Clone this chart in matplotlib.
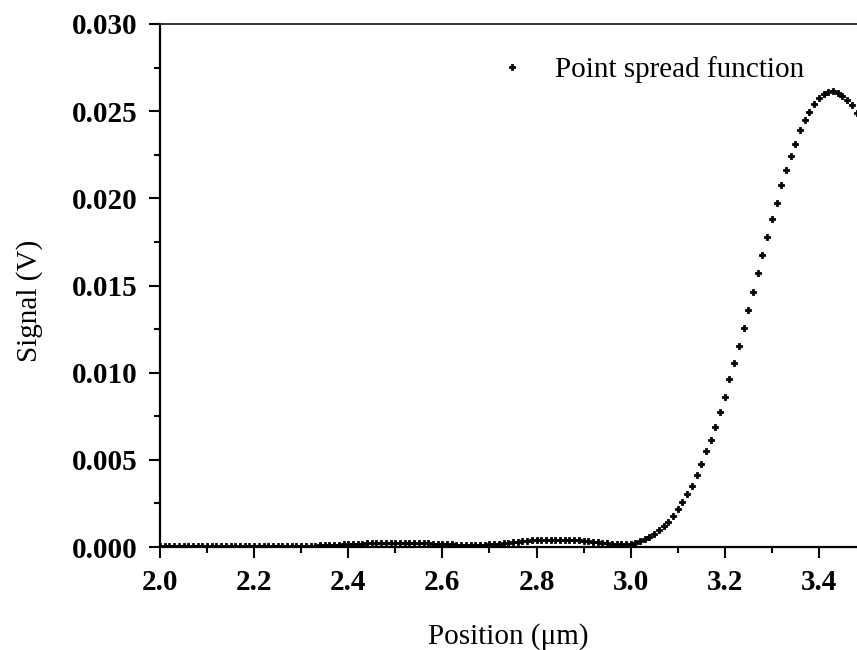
import numpy as np
import matplotlib
matplotlib.use("Agg")
import matplotlib.pyplot as plt
from matplotlib.ticker import MultipleLocator, FormatStrFormatter

# signal (V) sampled every 0.01 um from 2.00 to 3.48 um
signal = [
    0.00004, 0.00005, 0.00004, 0.00005, 0.00005, 0.00004, 0.00005, 0.00005, 0.00006, 0.00005,
    0.00005, 0.00006, 0.00006, 0.00005, 0.00006, 0.00007, 0.00007, 0.00006, 0.00007, 0.00007,
    0.00007, 0.00006, 0.00007, 0.00006, 0.00006, 0.00005, 0.00006, 0.00006, 0.00007, 0.00007,
    0.00006, 0.00007, 0.00007, 0.00008, 0.00009, 0.00010, 0.00011, 0.00012, 0.00014, 0.00015,
    0.00016, 0.00017, 0.00019, 0.00020, 0.00021, 0.00022, 0.00023, 0.00023, 0.00024, 0.00024,
    0.00025, 0.00025, 0.00024, 0.00024, 0.00023, 0.00023, 0.00022, 0.00021, 0.00019, 0.00018,
    0.00017, 0.00016, 0.00015, 0.00014, 0.00014, 0.00013, 0.00013, 0.00013, 0.00014, 0.00014,
    0.00015, 0.00017, 0.00019, 0.00022, 0.00025, 0.00028, 0.00031, 0.00034, 0.00036, 0.00038,
    0.00040, 0.00041, 0.00042, 0.00043, 0.00043, 0.00043, 0.00042, 0.00041, 0.00040, 0.00038,
    0.00035, 0.00032, 0.00029, 0.00026, 0.00023, 0.00021, 0.00019, 0.00018, 0.00017, 0.00018,
    0.00020, 0.00025, 0.00033, 0.00044, 0.00058, 0.00075, 0.00097, 0.00120, 0.00146, 0.00177,
    0.00217, 0.00257, 0.00303, 0.00352, 0.00412, 0.00475, 0.00548, 0.00615, 0.00691, 0.00772,
    0.00862, 0.00962, 0.01056, 0.01151, 0.01255, 0.01362, 0.01464, 0.01573, 0.01676, 0.01780,
    0.01883, 0.01975, 0.02075, 0.02161, 0.02243, 0.02314, 0.02391, 0.02448, 0.02498, 0.02540,
    0.02575, 0.02598, 0.02611, 0.02617, 0.02607, 0.02588, 0.02565, 0.02534, 0.02490,
]
position = np.linspace(2.00, 3.48, len(signal))

x_ticks = [2.0, 2.2, 2.4, 2.6, 2.8, 3.0, 3.2, 3.4]
y_ticks = [0.000, 0.005, 0.010, 0.015, 0.020, 0.025, 0.030]

plt.rcParams["font.family"] = ["Liberation Serif", "DejaVu Serif"]

fig = plt.figure(figsize=(8.57, 6.5), dpi=100)
ax = fig.add_axes([160 / 857, 1 - 547 / 650, 697 / 857, 523 / 650])

ax.plot(position, signal, linestyle="none", marker="P", markersize=4.4,
        color="black", markeredgewidth=0.6, label="Point spread function")

ax.set_xlim(2.0, 3.481)
ax.set_ylim(0.0, 0.030)
ax.set_xticks(x_ticks)
ax.set_yticks(y_ticks)
ax.xaxis.set_minor_locator(MultipleLocator(0.1))
ax.yaxis.set_minor_locator(MultipleLocator(0.0025))
ax.xaxis.set_major_formatter(FormatStrFormatter("%.1f"))
ax.yaxis.set_major_formatter(FormatStrFormatter("%.3f"))

ax.tick_params(which="major", direction="out", length=8, width=1.5, labelsize=21, pad=8)
ax.tick_params(which="minor", direction="out", length=4, width=1.5)
for lab in ax.get_xticklabels() + ax.get_yticklabels():
    lab.set_fontweight("bold")

ax.spines["right"].set_visible(False)
ax.spines["left"].set_linewidth(1.6)
ax.spines["bottom"].set_linewidth(1.6)
ax.spines["top"].set_linewidth(1.4)
ax.spines["top"].set_color("#333333")

ax.set_xlabel("Position (μm)", fontsize=21)
ax.set_ylabel("Signal (V)", fontsize=21)
ax.xaxis.set_label_coords(0.5, -0.145)
ax.yaxis.set_label_coords(-0.168, 0.47)

ax.legend(loc="center left", bbox_to_anchor=((497 - 160) / 697, (547 - 70) / 523),
          frameon=False, fontsize=21, handlelength=1.0, handletextpad=1.0,
          borderaxespad=0, borderpad=0, markerscale=1.0)

fig.savefig("out.png", dpi=100)
